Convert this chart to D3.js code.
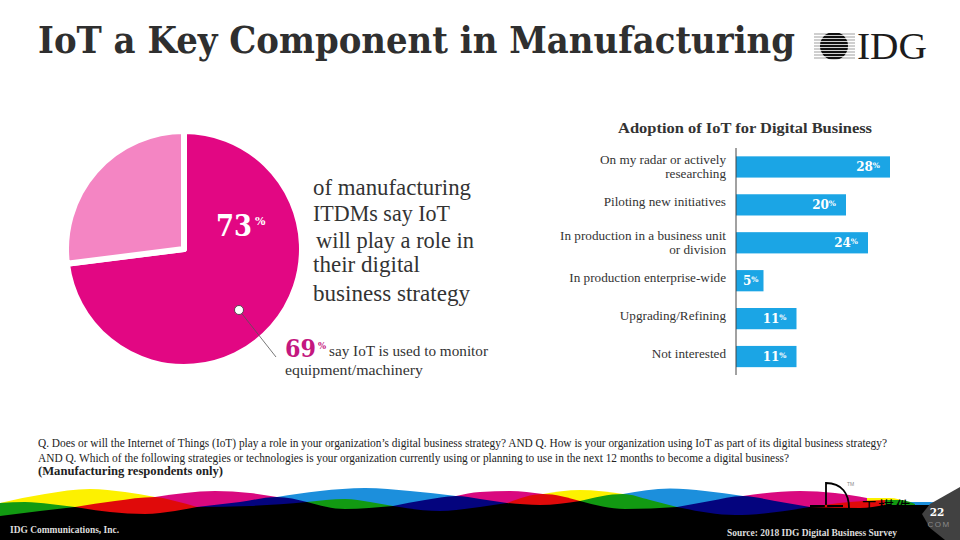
<!DOCTYPE html>
<html>
<head>
<meta charset="utf-8">
<title>IoT a Key Component in Manufacturing</title>
<script src="https://cdn.jsdelivr.net/npm/d3@7"></script>
<style>
  html, body { margin: 0; padding: 0; background: #fff; }
  svg { display: block; }
  text { font-family: "Liberation Serif", serif; fill: #333; }
  .heavy { font-family: "DejaVu Serif", serif; font-weight: bold; }
</style>
</head>
<body>
<div id="chart"></div>
<script>
// Valeurs
const pieNames = ["Yes", "No"];
const pieValues = [73, 27];
const pieColors = ["#e20783", "#f485c3"];

const adoptionLabels = [
  "On my radar or actively researching",
  "Piloting new initiatives",
  "In production in a business unit or division",
  "In production enterprise-wide",
  "Upgrading/Refining",
  "Not interested"
];
const adoptionValues = [28, 20, 24, 5, 11, 11];
const adoptionLines = [
  ["On my radar or actively", "researching"],
  ["Piloting new initiatives"],
  ["In production in a business unit", "or division "],
  ["In production enterprise-wide"],
  ["Upgrading/Refining"],
  ["Not interested"]
];

const calloutLines = ["of manufacturing", "ITDMs say IoT", "will play a role in", "their digital", "business strategy"];
const questionLines = [
  "Q. Does or will the Internet of Things (IoT) play a role in your organization’s digital business strategy?  AND Q. How is your organization using IoT as part of its digital business strategy?",
  "AND Q. Which of the following strategies or technologies is your organization currently using or planning to use in the next 12 months to become a digital business?"
];

const width = 960, height = 540;
const svg = d3.select("#chart").append("svg")
  .attr("width", width).attr("height", height)
  .attr("viewBox", `0 0 ${width} ${height}`);

// Titre
svg.append("text").attr("class", "heavy").attr("x", 38).attr("y", 53)
  .attr("textLength", 757).attr("lengthAdjust", "spacingAndGlyphs")
  .style("font-size", "37px").style("fill", "#2f2f2f")
  .text("IoT a Key Component in Manufacturing");

// Logo IDG
const logo = svg.append("g");
logo.append("clipPath").attr("id", "globe").append("circle").attr("cx", 834).attr("cy", 46).attr("r", 14);
d3.range(34, 60, 3).forEach(y => {
  logo.append("line").attr("x1", 814).attr("x2", 855).attr("y1", y).attr("y2", y)
    .attr("stroke", "#777").attr("stroke-width", 0.7);
  logo.append("rect").attr("x", 818).attr("width", 34).attr("y", y - 1).attr("height", 2.2)
    .attr("fill", "#111").attr("clip-path", "url(#globe)");
});
logo.append("text").attr("x", 857).attr("y", 59)
  .attr("textLength", 70).attr("lengthAdjust", "spacingAndGlyphs")
  .style("font-size", "38px").style("fill", "#1c1c1c").text("IDG");

// Camembert
const cx = 184, cy = 249, radius = 118;
const pie = d3.pie().sort(null)(pieValues);
const arc = d3.arc().innerRadius(0).outerRadius(radius);
svg.append("g").attr("transform", `translate(${cx},${cy})`)
  .selectAll("path").data(pie).join("path")
  .attr("d", arc)
  .attr("fill", (d, i) => pieColors[i])
  .attr("stroke", "#fff").attr("stroke-width", 6)
  .attr("stroke-linejoin", "round");

// Repere 69 %
svg.append("line").attr("x1", 239).attr("y1", 310).attr("x2", 276).attr("y2", 357)
  .attr("stroke", "#555").attr("stroke-width", 0.8);
svg.append("circle").attr("cx", 239).attr("cy", 310).attr("r", 4.5)
  .attr("fill", "#fff").attr("stroke", "#333").attr("stroke-width", 0.8);

svg.append("text").attr("class", "heavy").attr("x", 216).attr("y", 236)
  .attr("textLength", 36).attr("lengthAdjust", "spacingAndGlyphs")
  .style("font-size", "29px").style("fill", "#fff").text(pieValues[0]);
svg.append("text").attr("class", "heavy").attr("x", 255).attr("y", 225)
  .style("font-size", "11px").style("fill", "#fff").text("%");

const calloutY = [195, 221, 248, 272, 301];
const calloutX = [313, 313, 316, 313, 313];
const calloutW = [158, 137, 158, 107, 157];
svg.append("g").selectAll("text").data(calloutLines).join("text")
  .attr("x", (d, i) => calloutX[i])
  .attr("y", (d, i) => calloutY[i])
  .attr("textLength", (d, i) => calloutW[i]).attr("lengthAdjust", "spacingAndGlyphs")
  .style("font-size", "23px")
  .text(d => d);

svg.append("text").attr("class", "heavy").attr("x", 285).attr("y", 357)
  .attr("textLength", 31).attr("lengthAdjust", "spacingAndGlyphs")
  .style("font-size", "24px").style("fill", "#c4177f").text("69");
svg.append("text").attr("class", "heavy").attr("x", 318).attr("y", 349)
  .style("font-size", "8.5px").style("fill", "#c4177f").text("%");
svg.append("text").attr("x", 329).attr("y", 356)
  .attr("textLength", 159).attr("lengthAdjust", "spacingAndGlyphs")
  .style("font-size", "15px").text("say IoT is used to monitor");
svg.append("text").attr("x", 285).attr("y", 375)
  .attr("textLength", 138).attr("lengthAdjust", "spacingAndGlyphs")
  .style("font-size", "15px").text("equipment/machinery");

// Barres
const x = d3.scaleLinear().domain([0, 28]).range([736, 890]);
const y = d3.scaleBand().domain(adoptionLabels).range([148, 375.5]).paddingInner(0.44).paddingOuter(0.22);

svg.append("text").attr("x", 618).attr("y", 133)
  .attr("textLength", 254).attr("lengthAdjust", "spacingAndGlyphs")
  .style("font-size", "15.5px").style("font-weight", "bold").text("Adoption of IoT for Digital  Business");

svg.append("g").selectAll("rect").data(adoptionLabels).join("rect")
  .attr("x", x(0))
  .attr("y", d => y(d))
  .attr("width", (d, i) => x(adoptionValues[i]) - x(0))
  .attr("height", y.bandwidth())
  .attr("fill", "#1ba5e5");

svg.append("line").attr("x1", x(0)).attr("x2", x(0)).attr("y1", 148).attr("y2", 375)
  .attr("stroke", "#444").attr("stroke-width", 1);

svg.append("g").selectAll("text").data(adoptionLabels).join("text")
  .attr("text-anchor", "end").attr("x", 726)
  .attr("y", d => y(d) + y.bandwidth() / 2)
  .style("font-size", "13.2px")
  .each(function (d, i) {
    const lines = adoptionLines[i];
    d3.select(this).selectAll("tspan").data(lines).join("tspan")
      .attr("x", 726)
      .attr("dy", (l, j) => j === 0 ? (lines.length === 1 ? 1 : -3) : 14.5)
      .text(l => l);
  });

svg.append("g").selectAll("text").data(adoptionValues).join("text")
  .attr("class", "heavy")
  .attr("x", (d, i) => i === 3 ? x(d) - 5 : x(d) - 10)
  .attr("y", (d, i) => y(adoptionLabels[i]) + y.bandwidth() / 2 + 4)
  .attr("text-anchor", "end")
  .style("font-size", "12px").style("fill", "#fff")
  .each(function (d) {
    const t = d3.select(this);
    t.append("tspan").style("fill", "#fff").text(d);
    t.append("tspan").attr("dy", -3).style("font-size", "7.5px").style("fill", "#fff").text("%");
  });

// Question
svg.append("g").selectAll("text").data(questionLines).join("text")
  .attr("x", 38).attr("y", (d, i) => 447 + i * 14.5)
  .attr("textLength", (d, i) => i === 0 ? 849 : 751).attr("lengthAdjust", "spacingAndGlyphs")
  .style("font-size", "11.5px").style("fill", "#222").text(d => d);
svg.append("text").attr("x", 38).attr("y", 475)
  .attr("textLength", 185).attr("lengthAdjust", "spacingAndGlyphs")
  .style("font-size", "11.5px").style("font-weight", "bold").style("fill", "#222")
  .text("(Manufacturing respondents only)");

// Bandeau du bas : rangee haute, rangee basse, puis le noir par-dessus
const waveTop = [
  ["#fdf100", [[0, 503], [45, 494], [90, 489], [125, 492], [155, 497]]],
  ["#d9097f", [[155, 497], [215, 491], [250, 493], [277, 497]]],
  ["#1c8fdc", [[277, 497], [320, 491], [365, 488], [410, 491], [456, 496]]],
  ["#d9097f", [[456, 496], [480, 492], [510, 491], [543, 494]]],
  ["#fdf100", [[543, 494], [580, 490], [623, 494]]],
  ["#1c8fdc", [[623, 494], [670, 488.5], [705, 491], [743, 496]]],
  ["#d9097f", [[743, 496], [800, 491], [835, 493], [867, 498]]],
  ["#fdf100", [[867, 498], [890, 498], [907, 502]]],
  ["#1c8fdc", [[907, 502], [930, 502], [950, 506]]]
];
const waveBottom = [
  ["#129a12", [[0, 503], [25, 502], [50, 504], [75, 507]]],
  ["#e00a0a", [[75, 507], [115, 501], [155, 497], [175, 501], [197, 507]]],
  ["#04047e", [[197, 507], [240, 502], [277, 497], [307, 502]]],
  ["#129a12", [[307, 502], [345, 499], [370, 502], [393, 506]]],
  ["#04047e", [[393, 506], [425, 500], [456, 496], [480, 499], [507, 503]]],
  ["#e00a0a", [[507, 503], [543, 494], [580, 501]]],
  ["#129a12", [[580, 501], [623, 494], [650, 500], [677, 507]]],
  ["#04047e", [[677, 507], [710, 501], [743, 496], [775, 501], [810, 507]]],
  ["#e00a0a", [[810, 507], [850, 502], [885, 500]]],
  ["#129a12", [[885, 500], [900, 500], [915, 504]]]
];
const waveBlack = [
  [[0, 516], [40, 511], [75, 507]],
  [[75, 507], [110, 512], [145, 514], [175, 511], [197, 507]],
  [[197, 507], [250, 506], [307, 502]],
  [[307, 502], [345, 509], [393, 506]],
  [[393, 506], [440, 511], [480, 507], [507, 503]],
  [[507, 503], [540, 505], [580, 501]],
  [[580, 501], [625, 509], [677, 507]],
  [[677, 507], [735, 515], [810, 507]],
  [[810, 507], [860, 508], [885, 505]],
  [[885, 505], [960, 505]]
];
const waveArea = base => d3.area().curve(d3.curveMonotoneX)
  .x(d => d[0]).y0(base).y1(d => d[1]);
svg.append("g").selectAll("path").data(waveTop).join("path")
  .attr("d", d => waveArea(522)(d[1])).attr("fill", d => d[0]);
svg.append("g").selectAll("path").data(waveBottom).join("path")
  .attr("d", d => waveArea(522)(d[1])).attr("fill", d => d[0]);
svg.append("g").selectAll("path").data(waveBlack).join("path")
  .attr("d", d => waveArea(540)(d)).attr("fill", "#000");

svg.append("text").attr("x", 10).attr("y", 533)
  .attr("textLength", 109).attr("lengthAdjust", "spacingAndGlyphs")
  .style("font-size", "9.5px").style("font-weight", "bold").style("fill", "#ddd")
  .text("IDG Communications, Inc.");
svg.append("text").attr("x", 727).attr("y", 536)
  .attr("textLength", 170).attr("lengthAdjust", "spacingAndGlyphs")
  .style("font-size", "9.5px").style("font-weight", "bold").style("fill", "#ddd")
  .text("Source: 2018 IDG Digital Business Survey");

// Pastille de page
svg.append("path").attr("d", "M960,487 L930,504 L922,514 L930,528 L945,540 L960,540 Z").attr("fill", "#414141");
svg.append("text").attr("class", "heavy").attr("x", 937).attr("y", 516).attr("text-anchor", "middle")
  .style("font-size", "10.5px").style("fill", "#fff").text("22");
svg.append("text").attr("x", 939).attr("y", 527).attr("text-anchor", "middle")
  .style("font-family", "'Liberation Sans'").style("font-size", "8px").style("letter-spacing", "1.5px").style("fill", "#8a8a8a").text("COM");

// Filigrane
svg.append("path").attr("d", "M810,506 H843 M826,506 V483 C842,483 849,494 849,508")
  .attr("fill", "none").attr("stroke", "#000").attr("stroke-width", 1.8);
svg.append("circle").attr("cx", 826).attr("cy", 506).attr("r", 1.3).attr("fill", "#e00a0a");
svg.append("text").attr("x", 847).attr("y", 486)
  .style("font-family", "'Liberation Sans'").style("font-size", "5px").style("fill", "#888").text("TM");
svg.append("text").attr("x", 861).attr("y", 513)
  .attr("textLength", 50).attr("lengthAdjust", "spacing")
  .style("font-family", "'Noto Sans CJK SC'").style("font-size", "16px").style("fill", "#000").text("工棋件");
</script>
</body>
</html>
